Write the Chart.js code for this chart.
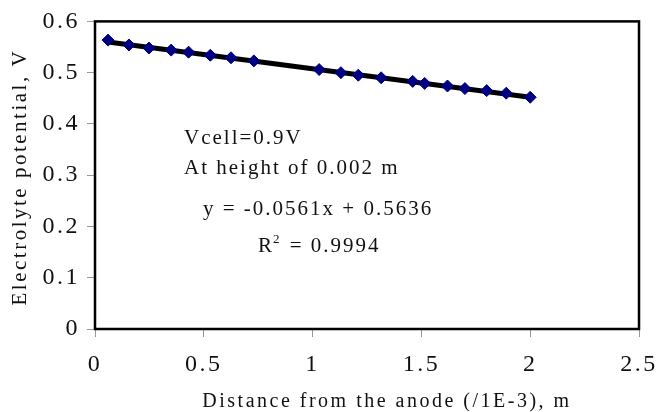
<!DOCTYPE html>
<html>
<head>
<script src="https://cdn.jsdelivr.net/npm/chart.js@4.4.1/dist/chart.umd.min.js"></script>
<style>
  html, body { margin: 0; padding: 0; background: #fff; }
  #wrap { width: 671px; height: 412px; position: relative; }
</style>
</head>
<body>
<div id="wrap"><canvas id="chart"></canvas></div>
<script>
// distance from the anode (/1E-3 m) and electrolyte potential (V)
const distance = [0.06, 0.156, 0.248, 0.35, 0.43, 0.53, 0.625, 0.73, 1.03, 1.13, 1.21, 1.315, 1.46, 1.515, 1.62, 1.70, 1.80, 1.89, 2.0];
const potential = [0.5635, 0.554, 0.548, 0.544, 0.540, 0.534, 0.529, 0.523, 0.506, 0.500, 0.495, 0.490, 0.483, 0.479, 0.474, 0.469, 0.465, 0.460, 0.452];

// linear trend line end points
const trendX = [0.06, 2.0];
const trendY = [0.560, 0.452];

const xTicks = [0, 0.5, 1, 1.5, 2, 2.5];
const yTicks = [0, 0.1, 0.2, 0.3, 0.4, 0.5, 0.6];

const xTitle = "Distance from the anode (/1E-3), m";
const yTitle = "Electrolyte potential, V";
const notes = ["Vcell=0.9V", "At height of 0.002 m"];
const fitText = "y = -0.0561x + 0.5636";
const r2Text = "0.9994";

const FONT = "'Liberation Serif', 'DejaVu Serif', serif";

const textPlugin = {
  id: 'texts',
  beforeDraw(chart) {
    chart.ctx.letterSpacing = '2.5px';
  },
  afterDatasetsDraw(chart) {
    const c = chart.ctx, a = chart.chartArea;
    c.save();
    c.strokeStyle = '#000';
    c.lineWidth = 2.5;
    c.strokeRect(a.left, a.top, a.right - a.left, a.bottom - a.top);

    c.fillStyle = '#111';
    c.letterSpacing = '2px';
    c.font = '21px ' + FONT;
    c.textBaseline = 'alphabetic';
    c.textAlign = 'left';
    c.fillText(notes[0], a.left + 89, a.top + 123);
    c.fillText(notes[1], a.left + 89, a.top + 153);
    c.fillText(fitText, a.left + 108, a.top + 194);
    // R^2 line
    let x = a.left + 163, y = a.top + 231;
    c.fillText('R', x, y);
    x += c.measureText('R').width;
    c.font = '13px ' + FONT;
    c.fillText('2', x - 1, y - 9);
    x += c.measureText('2').width;
    c.font = '21px ' + FONT;
    c.fillText(' = ' + r2Text, x, y);

    // axis titles
    c.letterSpacing = '2.5px';
    c.font = '20px ' + FONT;
    c.textAlign = 'center';
    c.fillText(xTitle, a.left + 292, chart.height - 5);
    c.save();
    c.translate(20, (a.top + a.bottom) / 2 + 2);
    c.rotate(-Math.PI / 2);
    c.textBaseline = 'middle';
    c.font = '21px ' + FONT;
    c.fillText(yTitle, 0, 0);
    c.restore();
    c.restore();
  }
};

const trendPts = trendX.map((x, i) => ({ x: x, y: trendY[i] }));
const pts = distance.map((x, i) => ({ x: x, y: potential[i] }));

new Chart(document.getElementById('chart'), {
  type: 'scatter',
  data: {
    datasets: [
      {
        label: 'trend',
        data: trendPts,
        showLine: true,
        borderColor: '#000',
        borderWidth: 5,
        pointRadius: 0,
        order: 2
      },
      {
        label: 'potential',
        data: pts,
        pointStyle: 'rectRot',
        pointRadius: 6,
        backgroundColor: '#000080',
        borderColor: '#000080',
        borderWidth: 1,
        order: 1
      }
    ]
  },
  options: {
    responsive: true,
    maintainAspectRatio: false,
    animation: false,
    layout: { padding: { top: 17, right: 32, left: 0, bottom: 0 } },
    plugins: { legend: { display: false }, tooltip: { enabled: false } },
    scales: {
      x: {
        type: 'linear',
        min: 0, max: 2.5,
        afterBuildTicks(s) { s.ticks = xTicks.map(v => ({ value: v })); },
        afterFit(s) { s.height = 83; },
        grid: { drawOnChartArea: false, drawTicks: true, tickLength: 8, color: '#999' },
        border: { display: false },
        ticks: {
          color: '#111',
          padding: 13,
          font: { family: FONT, size: 24 },
          maxRotation: 0,
          callback: v => String(v)
        }
      },
      y: {
        type: 'linear',
        min: 0, max: 0.6,
        afterBuildTicks(s) { s.ticks = yTicks.map(v => ({ value: v })); },
        afterFit(s) { s.width = 95; },
        grid: { drawOnChartArea: false, drawTicks: true, tickLength: 8, color: '#999' },
        border: { display: false },
        ticks: {
          color: '#111',
          padding: 7,
          font: { family: FONT, size: 24 },
          callback: v => v === 0 ? '0' : v.toFixed(1)
        }
      }
    }
  },
  plugins: [textPlugin]
});
</script>
</body>
</html>
